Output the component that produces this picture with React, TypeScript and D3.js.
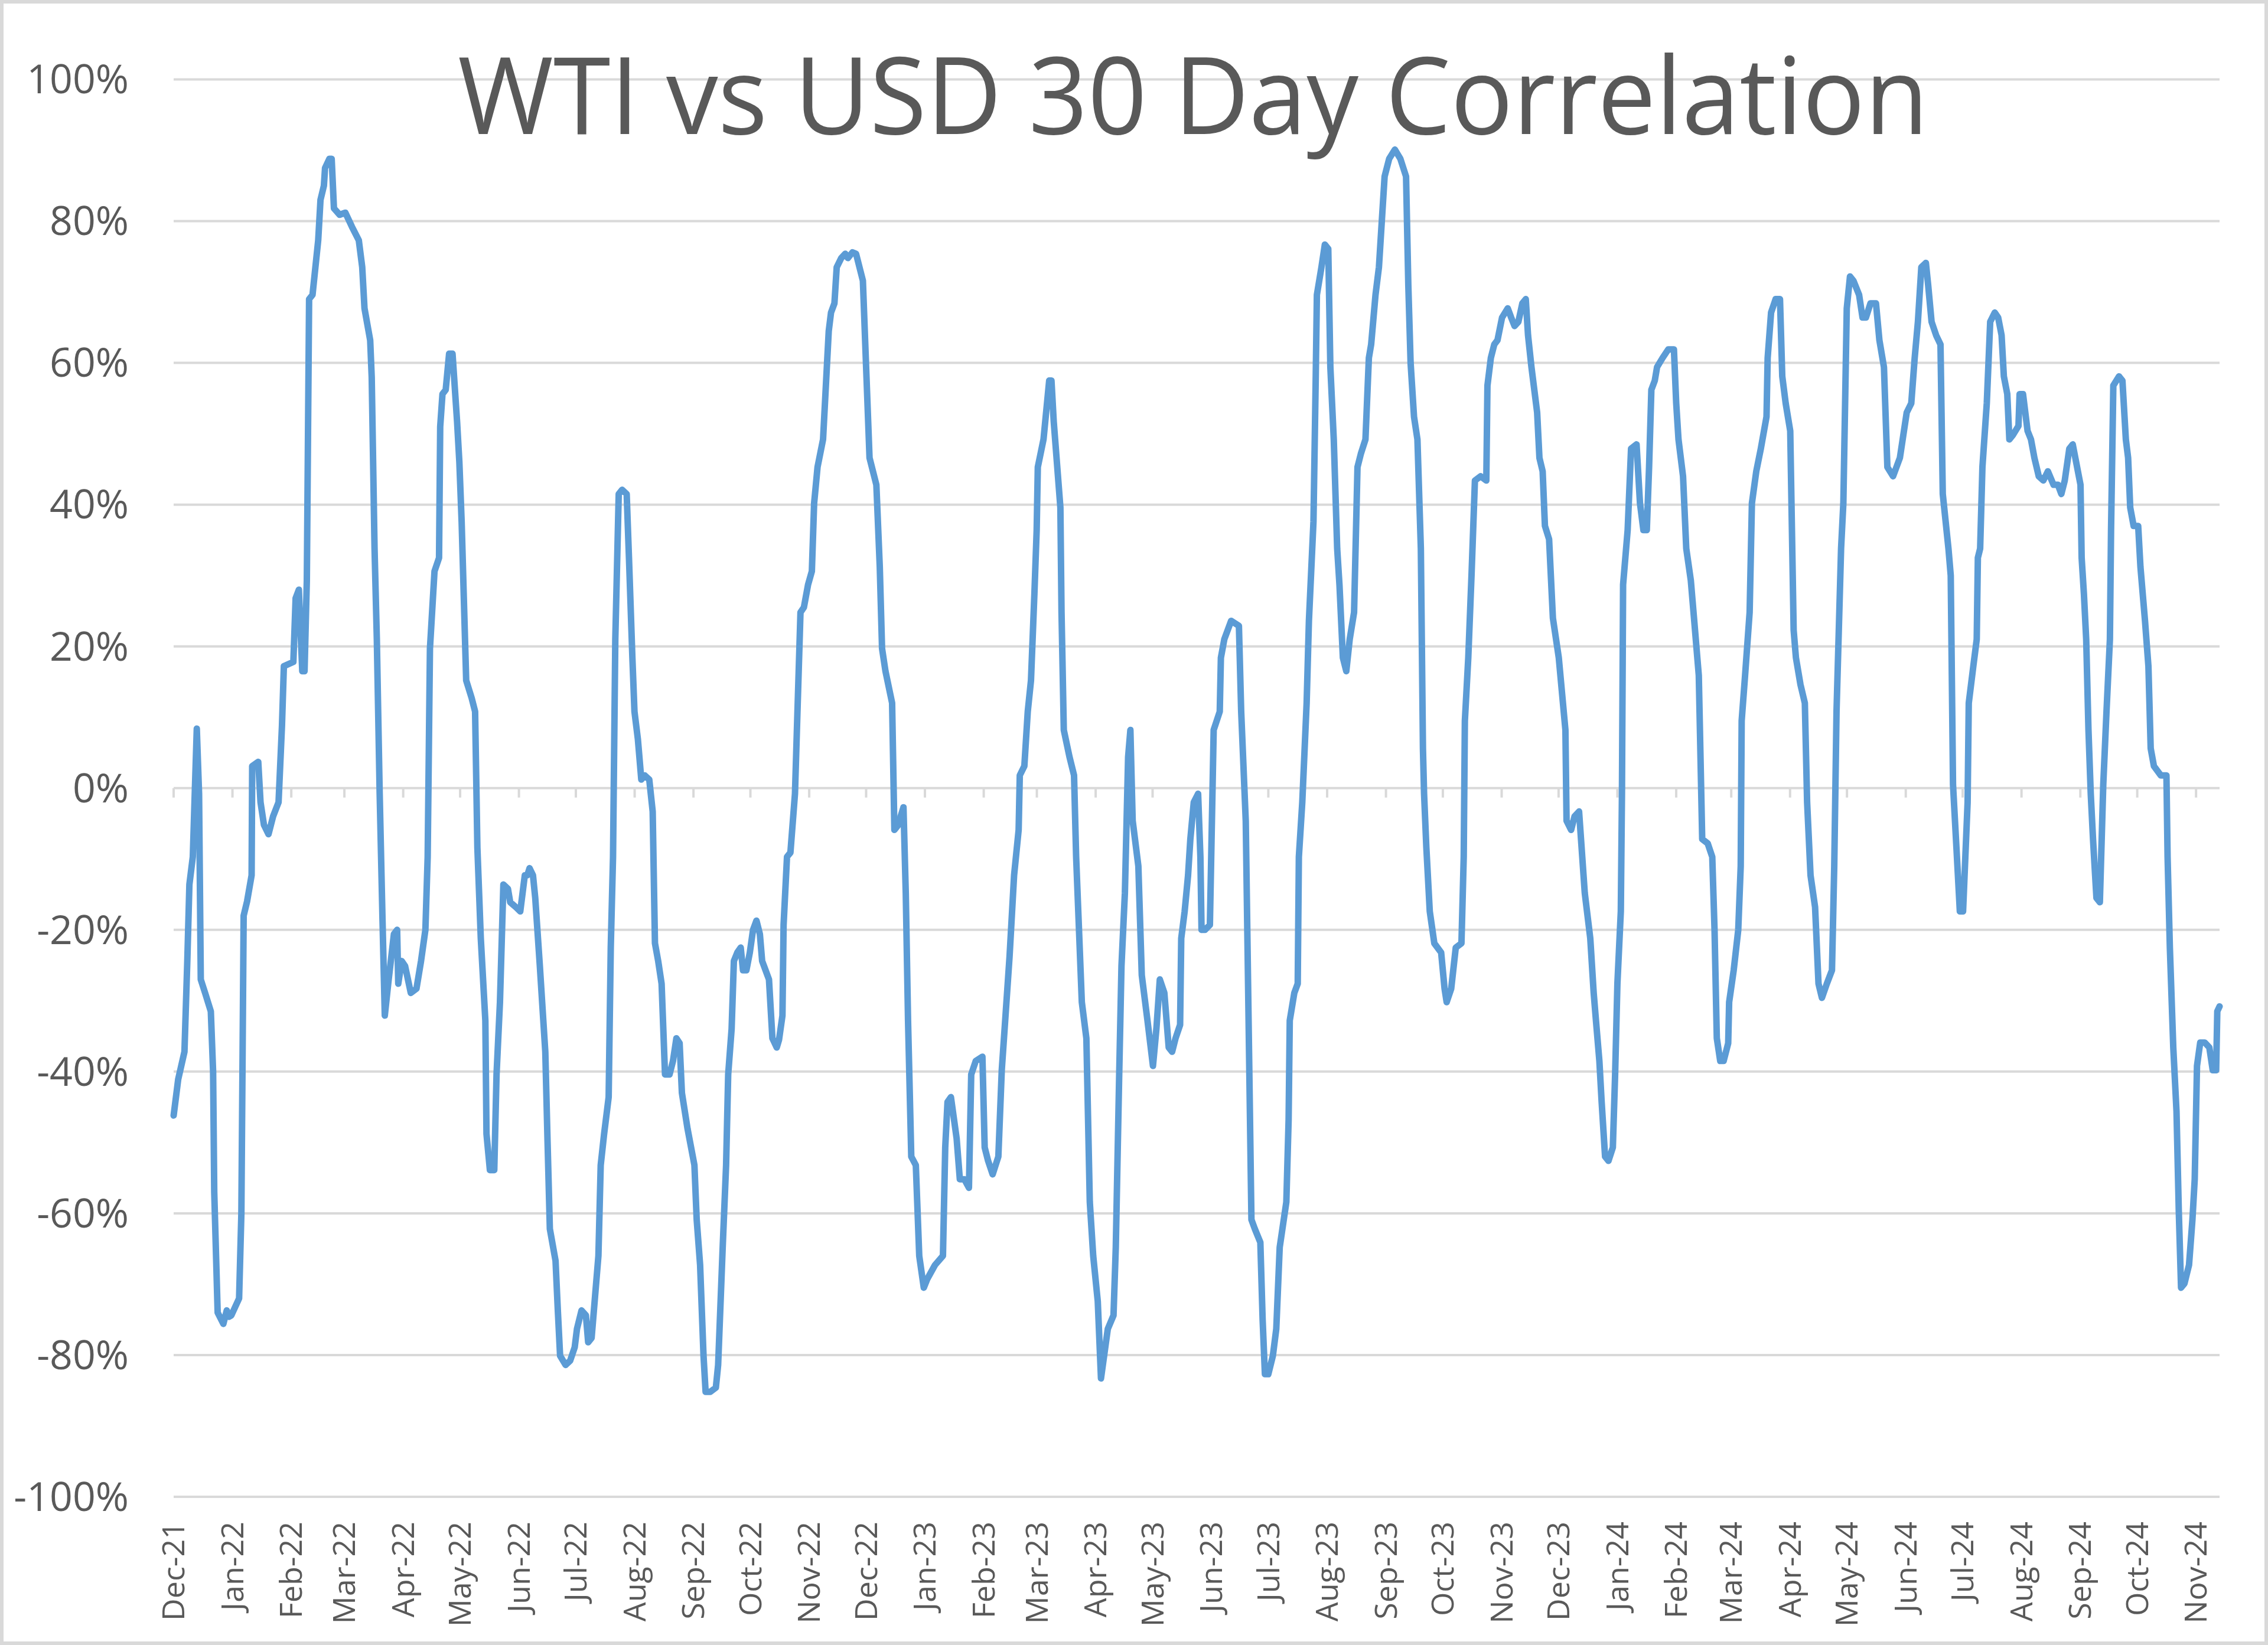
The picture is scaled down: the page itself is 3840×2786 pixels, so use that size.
import React from "react";
import * as d3 from "d3";

// Days since 1 Dec 2021, correlation in %
const START_UTC = Date.UTC(2021, 11, 1);
const DAY_MS = 86400000;

const segDec21Jun22: [number, number][] = [
  [0,-46.2],[2.4,-41.1],[5.7,-37.2],[7.2,-24.4],[8.3,-13.6],[10.1,-9.7],[12.2,8.4],[13.4,-0.8],[14.3,-27],[16.7,-29],
  [19.6,-31.5],[20.8,-40],[21.4,-57],[23.2,-74],[26.2,-75.6],[28,-73.7],[29.2,-74.6],[30.4,-74.4],[34.5,-72],[35.7,-60],
  [36.9,-18],[38.7,-16],[41.1,-12.3],[41.4,3.1],[44.6,3.7],[45.8,-2],[47.6,-5.2],[50,-6.5],[52.4,-4],[55.3,-2],
  [57.1,8.8],[58.1,17.2],[63.1,17.8],[64.3,26.8],[66,28],[67.8,16.5],[69,16.5],[70.2,29.3],[71.4,69],[73.2,69.6],
  [76.2,77.3],[77.4,83],[79.2,85],[79.8,87.5],[82.1,88.8],[83.3,88.8],[84.5,81.8],[87.5,80.9],[90.5,81.2],[94,79.2],
  [97.6,77.3],[99.4,73.5],[100.6,67.7],[103.6,63.2],[104.4,58],[105.9,33.8],[107.1,21],[108.6,-0.8],[110.1,-18.7],[111.3,-32.1],
  [113.1,-27.6],[116.1,-20.6],[117.8,-20],[118.4,-27.6],[120.2,-24.4],[122,-25.1],[125,-28.9],[128,-28.3],[130.4,-24.4],[132.7,-20],
  [133.9,-9.7],[135.1,19.7],[137.5,30.6],[139.9,32.5],[140.5,51],[141.7,55.6],[143.4,56.2],[145.2,61.3],[147,61.3],[149.4,51.7],
  [150.6,46],[151.8,37.6],[154.2,15.2],[157.1,12.7],[158.9,10.8],[160.1,-8.4],[161.9,-21.2],[164.3,-32.8],[164.9,-48.8],[166.7,-53.9],
  [169,-53.9],[170.2,-40.4],[172,-30.2],[173.8,-13.6],[176.2,-14.2],[177.4,-16.1],[180.4,-16.8],[182.7,-17.4],[185.1,-12.3],
];

const segJun22Dec22: [number, number][] = [
  [186.4,-12.3],[187.6,-11.3],[189.4,-12.3],[190.6,-15.5],[193,-25],[195.9,-37.2],[197.1,-50],[198.3,-62.2],[201.3,-66.7],[202.5,-73.7],
  [203.7,-80.1],[206.6,-81.4],[209,-80.8],[211.4,-78.9],[212.6,-76.3],[215,-73.7],[217.3,-74.4],[218.5,-78.2],[220.3,-77.6],[222.1,-71.8],
  [223.9,-66],[225.1,-53.2],[226.9,-48.8],[229.3,-43.6],[230.4,-22.5],[231.6,-9.7],[232.8,21],[234.6,41.5],[236.4,42.1],[238.8,41.5],
  [240,32.5],[241.8,18.4],[242.9,10.8],[244.7,6.9],[246.5,1.2],[248.3,1.8],[250.7,1.2],[252.5,-3.3],[253.7,-21.9],[255.4,-24.4],
  [257.2,-27.6],[259,-40.4],[261.4,-40.4],[263.2,-38.5],[265,-35.3],[266.7,-36],[267.9,-43],[270.9,-48.1],[274.5,-53.2],[275.7,-60.9],
  [277.5,-67.3],[279.3,-80.1],[280.4,-85.2],[282.8,-85.2],[285.8,-84.6],[287,-81.4],[289.4,-64.8],[291.2,-53.2],[292.3,-40.4],[294.1,-34],
  [295.3,-24.4],[297.1,-23.2],[298.9,-22.5],[300.1,-25.7],[301.9,-25.7],[303.7,-23.2],[305.4,-20],[307.2,-18.7],[309,-20.6],[310.2,-24.4],
  [312,-25.7],[313.8,-27],[315.6,-35.3],[317.9,-36.6],[319.1,-35.5],[320.9,-32.1],[321.5,-19.3],[323.3,-9.7],[325.1,-9.1],[327.5,-0.8],
  [330.4,24.8],[332.2,25.5],[334.4,28.7],[336.4,30.6],[337.6,40.2],[339.4,45.3],[342.3,49.2],[345.3,64.5],[346.5,67.1],[348.3,68.4],
  [349.5,73.5],[351.9,74.8],[354,75.4],[355.4,74.8],[357.8,75.6],[359.7,75.4],[363.3,71.6],[365,59.4],[366.8,46.6],
];

const segDec22Jun23: [number, number][] = [
  [370.4,42.8],[372.2,31.2],[373.4,19.7],[375.2,16.5],[378.7,12],[379.9,-5.9],[381.7,-5.3],[384.7,-2.7],[385.9,-14.8],[387.1,-32.8],
  [388.8,-52],[391.2,-53.2],[393,-66],[395.4,-70.5],[397.2,-69.3],[398.4,-68.7],[401.3,-67.3],[405.5,-66],[406.7,-50.7],[407.9,-44.3],
  [409.7,-43.6],[412.7,-49.4],[414.4,-55.2],[416.8,-55.2],[419.2,-56.4],[420.4,-40.4],[422.8,-38.5],[426.3,-37.9],[427.5,-50.7],[429.3,-52.6],
  [431.7,-54.5],[434.7,-52],[436.5,-39.8],[438.3,-32.8],[440.6,-23.8],[443,-12.3],[445.4,-5.9],[446,1.8],[448.4,3.1],[450.2,10.8],
  [451.9,15.2],[453.7,27.4],[454.9,36.4],[455.5,45.3],[458.5,49.2],[461.5,57.5],[462.7,57.5],[463.9,51.7],[467.4,39.6],[468,24.8],
  [469.2,8.2],[472.2,4.4],[474.6,1.8],[475.7,-9.7],[478.7,-30.2],[481.1,-35.3],[482.9,-58.4],[484.7,-66],[487.1,-72.4],[488.8,-83.3],
  [492.4,-76.3],[495.4,-74.4],[496.6,-64.8],[498.4,-40.4],[499.6,-25.1],[501.4,-14.8],[503.1,4.4],[504.3,8.2],[505.5,-4.6],[508.5,-11],
  [510.3,-26.4],[513.3,-32.8],[516.2,-39.2],[518,-34],[519.8,-27],[522.2,-28.9],[524.5,-36.6],[526.3,-37.2],[528.1,-35.3],[530.5,-33.4],
  [531.1,-21.2],[532.9,-17.4],[534.7,-12.3],[535.9,-7.2],[537.7,-2],[540,-0.8],[541.2,-9.7],[541.8,-20],[543.6,-20],[546.2,-19.3],
  [548.2,8.2],
];

const segJun23Dec23: [number, number][] = [
  [551.4,10.8],[552,18.4],[553.8,21],[557.4,23.6],[561.5,22.9],[562.7,10.8],[565.1,-4.6],[568.1,-60.9],[569.9,-62.2],[572.8,-64.1],
  [574,-75],[575.2,-82.7],[577,-82.7],[579.4,-80.1],[581.2,-76.3],[583,-64.8],[586.5,-58.4],[587.7,-46.8],[588.3,-32.8],[590.7,-28.9],
  [592.5,-27.6],[593.1,-9.7],[594.9,-2],[597.2,12],[598.4,23.6],[600.8,37.6],[602,58.1],[602.6,69.6],[605,73.5],[606.8,76.7],
  [608.6,76.1],[609.7,59.4],[611.5,49.2],[613.3,33.8],[614.5,28.7],[616.3,18.4],[618.1,16.5],[619.9,21],[622.2,24.8],[624,45.3],
  [625.8,47.2],[628.2,49.2],[630,60.7],[631.2,62.6],[633.5,69.6],[635.3,73.5],[637.1,81.2],[638.3,86.3],[640.7,88.8],[643.7,90.1],
  [646.6,88.8],[649.6,86.3],[650.8,70.9],[652,60],[653.8,52.4],[655.6,49.2],[657.4,33.8],[658.5,5.6],[659.1,-0.8],[660.3,-8.4],
  [662.1,-17.4],[664.5,-21.9],[668.1,-23.2],[669.9,-28.3],[671,-30.2],[673.4,-28.3],[675.8,-22.5],[678.8,-21.9],[680,-9.7],[680.6,9.5],
  [682.4,18.4],[684.1,30],[685.9,43.4],[688.9,44],[691.9,43.4],[692.5,56.8],[694.3,60.7],[696.1,62.6],[697.8,63.2],[700.2,66.4],
  [703.2,67.7],[705,66.4],[706.8,65.2],[708.8,65.8],[710.9,68.4],[712.7,69],[713.9,63.9],[715.7,59.4],[718.7,53],[719.9,46.6],
  [721.6,44.7],[722.8,37],[725,35.1],[727,24],[730.1,18.4],[733.6,8.2],
];

const segDec23Jun24: [number, number][] = [
  [734.2,-4.6],[736.6,-5.9],[738.4,-4],[740.8,-3.3],[743.8,-14.8],[746.7,-21.2],[748.5,-28.9],[749.7,-32.8],[751.5,-38.5],[752.7,-44.3],
  [754.5,-52],[756.3,-52.6],[758.6,-50.7],[759.8,-40.4],[761,-27.6],[762.8,-17.4],[763.4,-0.8],[764,28.7],[766.4,36.4],[768.2,47.9],
  [771.1,48.5],[772.9,40.2],[774.7,36.4],[776.5,36.4],[777.7,45.3],[778.9,56.2],[780.7,57.5],[781.9,59.4],[784.8,60.7],[787.8,61.9],
  [790.8,61.9],[792,54.3],[793.2,49.2],[795.6,44],[797.3,33.8],[799.7,29.3],[801.5,23.6],[803.9,15.9],[805.7,-7.2],[808.6,-7.8],
  [811,-9.7],[812.2,-20],[813.4,-35.3],[815.2,-38.5],[817,-38.5],[819.4,-36],[819.9,-30.2],[822.3,-25.7],[824.7,-20],[826,-11],
  [826.5,9.5],[828.3,15.9],[830.7,24.8],[831.9,40.2],[834.2,44.7],[836.6,47.9],[839.6,52.4],[840.2,60.7],[842,67.1],[844.4,69],
  [846.7,69],[847.9,58.1],[849.7,54.3],[852.1,50.4],[853.9,22.3],[855.1,18.4],[857.5,14.6],[859.8,12],[861,-2],[862.8,-12.3],
  [865.2,-16.8],[867,-27.6],[868.8,-29.6],[871.4,-27.6],[874.1,-25.7],[875.3,-11],[876.5,10.8],[878.9,33.8],[880.1,40.2],[881.9,67.7],
  [883.6,72.2],[885.4,71.6],[888.4,69.6],[890.2,66.4],[892,66.4],[894.4,68.4],[897.3,68.4],[899.1,63.2],[901.5,59.4],[903.3,45.3],
];

const segJun24Nov24: [number, number][] = [
  [906.3,44],[909.9,46.6],[911.7,49.8],[913.5,53],[915.9,54.3],[917.7,60.7],[919.4,65.8],[921.2,73.5],[923.6,74.1],[924.8,71],
  [926.6,65.8],[929,63.9],[931.3,62.6],[932.5,41.5],[935.5,33.8],[936.7,30],[937.9,0.5],[939.7,-8.4],[941.5,-17.4],[943.2,-17.4],
  [945.6,-2],[946.2,12],[948.6,17.2],[950.4,21],[951,32.5],[952.2,33.8],[953.4,45.3],[955.7,54.3],[957.5,65.8],[959.9,67.1],
  [961.7,66.4],[963.5,63.9],[964.7,58.1],[966.5,55.6],[967.6,49.2],[969.4,49.8],[972.4,51.1],[973,55.6],[974.8,55.6],[977.2,50.4],
  [979,49.2],[980.8,46.6],[983.1,44],[985.5,43.4],[987.9,44.7],[990.9,42.8],[993.2,42.8],[995,41.5],[996.8,43.4],[999.2,47.9],
  [1001,48.5],[1002.8,46],[1005.1,42.8],[1005.7,32.5],[1006.9,27.4],[1008.1,21],[1009.3,8.2],[1010.5,-0.8],[1011.7,-7.2],[1013.5,-15.5],
  [1015.3,-16.1],[1017.1,0.5],[1018.8,10.8],[1020.6,21],[1021.2,36.4],[1022.4,56.8],[1025.4,58.1],[1027.2,57.5],[1029,49.2],[1030.2,46.6],
  [1031.3,39.6],[1033.1,37],[1035.5,37],[1036.7,31.2],[1039.1,23.6],[1040.9,17.2],[1042.1,5.6],[1043.8,3.1],[1047.4,1.8],[1050.4,1.8],
  [1051,-9.7],[1052.2,-22.5],[1054,-36.6],[1055.7,-45.6],[1056.9,-59.6],[1058.1,-70.5],[1059.9,-69.9],[1062.3,-67.3],[1064.1,-60.9],[1065.3,-55.2],
  [1066.5,-39.2],[1068.2,-35.9],[1070.6,-35.9],[1073,-36.6],[1074.8,-39.8],[1076.6,-39.8],[1077.2,-31.5],[1078.4,-30.8],
];

const yTickValues = [-100, -80, -60, -40, -20, 0, 20, 40, 60, 80, 100];
const chartTitle = "WTI vs USD 30 Day Correlation";

const W = 3840;
const H = 2786;
const PLOT_L = 294;
const PLOT_R = 3758;
const Y_TOP = 134.5;
const Y_BOT = 2535;
const TEXT_COLOR = "#595959";
const GRID_COLOR = "#d9d9d9";
const LINE_COLOR = "#5B9BD5";
const FONT = "'Open Sans', 'Noto Sans', sans-serif";

type Pt = { date: Date; v: number };

export default function App() {
  const raw = [
    ...segDec21Jun22,
    ...segJun22Dec22,
    ...segDec22Jun23,
    ...segJun23Dec23,
    ...segDec23Jun24,
    ...segJun24Nov24,
  ];
  const data: Pt[] = raw.map(([d, v]) => ({ date: new Date(START_UTC + d * DAY_MS), v }));
  const ext = d3.extent(data, (d) => d.date) as [Date, Date];

  const x = d3.scaleUtc().domain(ext).range([PLOT_L, PLOT_R]);
  const y = d3.scaleLinear().domain([-100, 100]).range([Y_BOT, Y_TOP]);

  const line = d3
    .line<Pt>()
    .x((d) => x(d.date))
    .y((d) => y(d.v));

  const months = d3.utcMonth.range(ext[0], ext[1]);
  const fmt = d3.utcFormat("%b-%y");
  const y0 = y(0);

  return (
    <svg
      width={W}
      height={H}
      viewBox={`0 0 ${W} ${H}`}
      style={{ position: "absolute", left: 0, top: 0, display: "block", background: "#fff" }}
    >
      <rect x={0} y={0} width={W} height={H} fill="#ffffff" />
      <rect x={3} y={3} width={W - 6} height={H - 6} fill="none" stroke={GRID_COLOR} strokeWidth={6} />

      {yTickValues.map((t) => (
        <line key={"g" + t} x1={PLOT_L} x2={PLOT_R} y1={y(t)} y2={y(t)} stroke={GRID_COLOR} strokeWidth={4} />
      ))}

      {months.map((m) => (
        <line
          key={"t" + m.getTime()}
          x1={x(m)}
          x2={x(m)}
          y1={y0}
          y2={y0 + 16}
          stroke={GRID_COLOR}
          strokeWidth={4}
        />
      ))}

      {yTickValues.map((t) => (
        <text
          key={"yl" + t}
          x={218}
          y={y(t)}
          dy="0.35em"
          textAnchor="end"
          fontFamily={FONT}
          fontSize={68}
          fill={TEXT_COLOR}
        >
          {t + "%"}
        </text>
      ))}

      {months.map((m) => (
        <text
          key={"xl" + m.getTime()}
          transform={`translate(${x(m)},2577) rotate(-90)`}
          dy="0.35em"
          textAnchor="end"
          fontFamily={FONT}
          fontSize={52}
          fill={TEXT_COLOR}
        >
          {fmt(m)}
        </text>
      ))}

      <path
        d={line(data) || ""}
        fill="none"
        stroke={LINE_COLOR}
        strokeWidth={11}
        strokeLinejoin="round"
        strokeLinecap="round"
      />

      <text
        x={2020}
        y={227}
        textAnchor="middle"
        fontFamily={FONT}
        fontSize={182}
        fill={TEXT_COLOR}
        textLength={2490}
        lengthAdjust="spacingAndGlyphs"
      >
        {chartTitle}
      </text>
    </svg>
  );
}
